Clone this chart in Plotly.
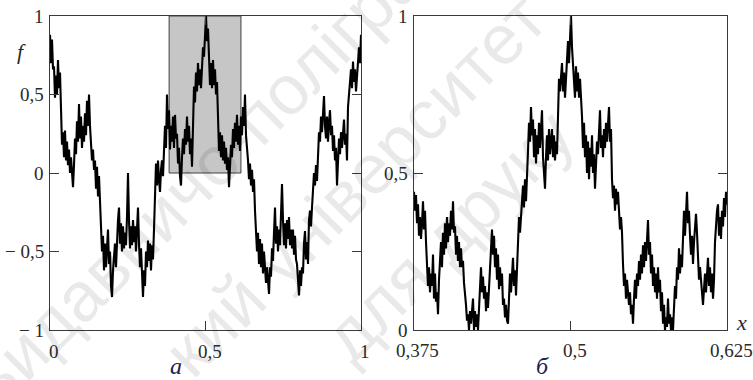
import numpy as np
import plotly.graph_objects as go

# f(x) sampled on a uniform grid over [0, 1] (panel a)
x_left_range = [0.0, 1.0]
f_left = [
    0.88, 0.70, 0.85, 0.66, 0.68, 0.48, 0.62, 0.50, 0.72, 0.54,
    0.64, 0.47, 0.18, 0.26, 0.10, 0.27, 0.08, 0.20, 0.05, 0.15,
    0.00, 0.10, -0.03, -0.09, 0.05, 0.22, 0.12, 0.33, 0.20, 0.44,
    0.22, 0.36, 0.16, 0.30, 0.20, 0.38, 0.24, 0.46, 0.30, 0.50,
    0.30, 0.22, 0.08, 0.15, 0.02, 0.08, -0.10, 0.04, -0.15, -0.02,
    -0.22, -0.36, -0.50, -0.40, -0.62, -0.45, -0.60, -0.48, -0.36, -0.58,
    -0.50, -0.72, -0.79, -0.62, -0.55, -0.45, -0.60, -0.42, -0.30, -0.22,
    -0.45, -0.32, -0.50, -0.34, -0.48, -0.38, -0.46, -0.28, 0.00, -0.30,
    -0.48, -0.34, -0.46, -0.30, -0.44, -0.34, -0.50, -0.36, -0.22, -0.45,
    -0.60, -0.48, -0.70, -0.79, -0.62, -0.72, -0.50, -0.60, -0.43, -0.56,
    -0.45, -0.62, -0.46, -0.55, -0.36, -0.10, 0.06, -0.08, 0.08, -0.04,
    -0.12, 0.02, 0.08, -0.02, 0.22, 0.30, 0.16, 0.50, 0.28, 0.40,
    0.15, 0.30, 0.20, 0.36, 0.16, 0.37, 0.22, 0.25, 0.06, 0.16,
    -0.02, -0.08, 0.10, 0.22, 0.12, 0.28, 0.18, 0.36, 0.20, 0.30,
    0.12, 0.22, 0.04, 0.42, 0.55, 0.45, 0.64, 0.52, 0.70, 0.56,
    0.66, 0.54, 0.72, 0.80, 0.74, 0.90, 1.00, 0.84, 0.92, 0.74,
    0.56, 0.70, 0.54, 0.72, 0.56, 0.66, 0.50, 0.58, 0.28, 0.14,
    0.26, 0.10, 0.24, 0.08, 0.20, 0.06, 0.16, 0.02, 0.10, -0.09,
    0.04, 0.18, 0.10, 0.28, 0.16, 0.32, 0.20, 0.37, 0.18, 0.30,
    0.14, 0.36, 0.24, 0.42, 0.30, 0.50, 0.24, 0.18, 0.08, -0.04,
    0.06, -0.08, 0.02, -0.12, -0.04, -0.24, -0.40, -0.50, -0.38, -0.58,
    -0.42, -0.60, -0.45, -0.64, -0.50, -0.60, -0.70, -0.60, -0.72, -0.77,
    -0.60, -0.66, -0.48, -0.56, -0.38, -0.22, -0.45, -0.34, -0.50, -0.36,
    -0.46, -0.28, -0.07, -0.30, -0.46, -0.32, -0.48, -0.30, -0.42, -0.28,
    -0.46, -0.36, -0.48, -0.36, -0.52, -0.40, -0.55, -0.58, -0.66, -0.78,
    -0.62, -0.72, -0.60, -0.64, -0.45, -0.37, -0.55, -0.44, -0.58, -0.30,
    -0.24, -0.34, -0.22, -0.12, 0.00, -0.08, 0.05, -0.05, 0.18, 0.26,
    0.20, 0.36, 0.26, 0.42, 0.49, 0.30, 0.22, 0.36, 0.20, 0.32,
    0.40, 0.24, 0.30, 0.14, 0.24, 0.08, 0.16, -0.08, 0.08, 0.22,
    0.12, 0.26, 0.16, 0.30, 0.34, 0.18, 0.25, 0.08, 0.42, 0.50,
    0.58, 0.66, 0.54, 0.71, 0.58, 0.66, 0.52, 0.64, 0.68, 0.80,
    0.70, 0.88,
]

# f(x) on the magnified window [0.375, 0.625] (panel б)
x_right_range = [0.375, 0.625]
f_right = [
    0.44, 0.38, 0.43, 0.34, 0.40, 0.30, 0.36, 0.29, 0.34, 0.41,
    0.32, 0.38, 0.28, 0.20, 0.14, 0.20, 0.12, 0.18, 0.14, 0.24,
    0.10, 0.18, 0.09, 0.12, 0.05, 0.16, 0.22, 0.28, 0.20, 0.31,
    0.24, 0.34, 0.26, 0.36, 0.28, 0.34, 0.30, 0.38, 0.32, 0.41,
    0.31, 0.33, 0.24, 0.30, 0.22, 0.28, 0.20, 0.26, 0.20, 0.22,
    0.15, 0.12, 0.08, 0.03, 0.05, 0.00, 0.06, 0.02, 0.08, 0.10,
    0.00, 0.06, 0.01, 0.05, 0.00, 0.08, 0.15, 0.20, 0.12, 0.17,
    0.10, 0.14, 0.06, 0.12, 0.07, 0.14, 0.22, 0.28, 0.32, 0.24,
    0.30, 0.20, 0.26, 0.16, 0.24, 0.13, 0.20, 0.14, 0.18, 0.08,
    0.10, 0.04, 0.08, 0.03, 0.02, 0.10, 0.18, 0.12, 0.20, 0.23,
    0.14, 0.19, 0.11, 0.18, 0.24, 0.36, 0.31, 0.36, 0.40, 0.46,
    0.39, 0.48, 0.41, 0.47, 0.57, 0.66, 0.60, 0.71, 0.62, 0.67,
    0.55, 0.64, 0.53, 0.62, 0.56, 0.66, 0.58, 0.64, 0.70, 0.55,
    0.50, 0.45, 0.55, 0.62, 0.54, 0.64, 0.56, 0.60, 0.64, 0.55,
    0.62, 0.54, 0.60, 0.56, 0.72, 0.80, 0.76, 0.82, 0.85, 0.76,
    0.82, 0.74, 0.80, 0.86, 0.92, 0.85, 0.94, 1.00, 0.90, 0.84,
    0.80, 0.74, 0.84, 0.76, 0.82, 0.74, 0.80, 0.75, 0.68, 0.58,
    0.66, 0.55, 0.62, 0.50, 0.60, 0.48, 0.58, 0.52, 0.62, 0.50,
    0.56, 0.45, 0.54, 0.60, 0.56, 0.66, 0.70, 0.58, 0.62, 0.55,
    0.64, 0.58, 0.66, 0.60, 0.68, 0.71, 0.60, 0.64, 0.48, 0.42,
    0.46, 0.38, 0.45, 0.40, 0.44, 0.37, 0.32, 0.36, 0.31, 0.21,
    0.14, 0.18, 0.10, 0.16, 0.12, 0.08, 0.12, 0.05, 0.08, 0.02,
    0.10, 0.16, 0.10, 0.18, 0.14, 0.22, 0.16, 0.24, 0.18, 0.27,
    0.20, 0.28, 0.22, 0.30, 0.35, 0.24, 0.28, 0.18, 0.24, 0.14,
    0.20, 0.12, 0.18, 0.10, 0.20, 0.12, 0.16, 0.06, 0.12, 0.02,
    0.08, 0.00, 0.04, 0.01, 0.10, 0.02, 0.05, 0.00, 0.04, 0.00,
    0.08, 0.14, 0.10, 0.20, 0.16, 0.26, 0.18, 0.24, 0.20, 0.32,
    0.38, 0.30, 0.40, 0.44, 0.34, 0.38, 0.30, 0.24, 0.30, 0.21,
    0.28, 0.34, 0.37, 0.31, 0.24, 0.16, 0.20, 0.14, 0.12, 0.08,
    0.12, 0.18, 0.12, 0.20, 0.23, 0.14, 0.20, 0.12, 0.18, 0.10,
    0.16, 0.28, 0.34, 0.38, 0.40, 0.30, 0.36, 0.29, 0.38, 0.33,
    0.42, 0.36, 0.44, 0.40,
]

# highlighted window on panel a
window_x = [0.383, 0.614]
window_y = [0.0, 1.0]

# tick positions and labels
left_xticks = [0.0, 0.5, 1.0]
left_xlabels = ["0", "0,5", "1"]
left_yticks = [1.0, 0.5, 0.0, -0.5, -1.0]
left_ylabels = ["1", "0,5", "0", "\u2212 0,5", "\u2212 1"]
right_xticks = [0.375, 0.5, 0.625]
right_xlabels = ["0,375", "0,5", "0,625"]
right_yticks = [1.0, 0.5, 0.0]
right_ylabels = ["1", "0,5", "0"]

# background stamp lines
stamp_lines = ["Видавничо-поліграфічний", "кий університет", "для друку"]

W, H = 753, 380
FRAME = "#3a3a3a"
TXT = "#2a2a2a"
SERIF = "Liberation Serif, Times New Roman, serif"


def px_x(p):
    return p / W


def px_y(p):
    return 1 - p / H


fig = go.Figure()

xl = np.linspace(x_left_range[0], x_left_range[1], len(f_left))
xr = np.linspace(x_right_range[0], x_right_range[1], len(f_right))

fig.add_trace(go.Scatter(x=xl, y=f_left, mode="lines", xaxis="x", yaxis="y",
                         line=dict(color="black", width=2.1), hoverinfo="skip"))
fig.add_trace(go.Scatter(x=xr, y=f_right, mode="lines", xaxis="x2", yaxis="y2",
                         line=dict(color="black", width=2.1), hoverinfo="skip"))

fig.add_shape(type="rect", xref="x", yref="y",
              x0=window_x[0], x1=window_x[1], y0=window_y[0], y1=window_y[1],
              fillcolor="#c6c6c6", line=dict(color="#404040", width=1), layer="below")

axis_common = dict(showline=True, mirror="ticks", linecolor=FRAME, linewidth=1,
                   ticks="inside", ticklen=9, tickcolor=FRAME, tickwidth=1,
                   showgrid=False, zeroline=False, showticklabels=False, fixedrange=True)

fig.update_layout(
    width=W, height=H, autosize=False,
    margin=dict(l=0, r=0, t=0, b=0),
    paper_bgcolor="white", plot_bgcolor="white",
    showlegend=False,
    xaxis=dict(domain=[px_x(50), px_x(361)], range=x_left_range,
               tickvals=[0.5], anchor="y", **axis_common),
    yaxis=dict(domain=[px_y(330), px_y(16)], range=[-1, 1],
               tickvals=[-0.5, 0, 0.5], anchor="x", **axis_common),
    xaxis2=dict(domain=[px_x(414), px_x(727)], range=x_right_range,
                tickvals=[0.5], anchor="y2", **axis_common),
    yaxis2=dict(domain=[px_y(330), px_y(16)], range=[0, 1],
                tickvals=[0.5], anchor="x2", **axis_common),
)

ann = []

# faint diagonal stamp
stamp_font = dict(family="Liberation Sans, Arial, sans-serif", size=70,
                  color="rgba(0,0,0,0.085)")
for text, (cx, cy) in zip(stamp_lines, [(273, 103), (355, 185), (448, 236)]):
    ann.append(dict(x=px_x(cx), y=px_y(cy), xref="paper", yref="paper", text=text,
                    showarrow=False, textangle=-45, xanchor="center", yanchor="middle",
                    font=stamp_font))

tick_font = dict(family=SERIF, size=19, color=TXT)
for v, t in zip(left_yticks, left_ylabels):
    ann.append(dict(x=0, xref="x domain", y=v, yref="y", text=t, showarrow=False,
                    xanchor="right", yanchor="middle", xshift=-4, font=tick_font))
for v, t in zip(right_yticks, right_ylabels):
    ann.append(dict(x=0, xref="x2 domain", y=v, yref="y2", text=t, showarrow=False,
                    xanchor="right", yanchor="middle", xshift=-4, font=tick_font))
for v, t in zip(left_xticks, left_xlabels):
    ann.append(dict(x=v, xref="x", y=0, yref="y domain", text=t, showarrow=False,
                    xanchor="center", yanchor="middle", xshift=4, yshift=-21, font=tick_font))
for v, t in zip(right_xticks, right_xlabels):
    ann.append(dict(x=v, xref="x2", y=0, yref="y2 domain", text=t, showarrow=False,
                    xanchor="center", yanchor="middle", xshift=4, yshift=-20, font=tick_font))

label_font = dict(family=SERIF, size=22, color=TXT)
ann.append(dict(x=px_x(21), y=px_y(52), xref="paper", yref="paper", text="<i>f</i>",
                showarrow=False, xanchor="center", yanchor="middle", font=label_font))
ann.append(dict(x=px_x(741), y=px_y(322), xref="paper", yref="paper", text="<i>x</i>",
                showarrow=False, xanchor="center", yanchor="middle", font=label_font))
panel_font = dict(family=SERIF, size=24, color="#1e2050")
ann.append(dict(x=px_x(176), y=px_y(366), xref="paper", yref="paper", text="<i>a</i>",
                showarrow=False, xanchor="center", yanchor="middle", font=panel_font))
ann.append(dict(x=px_x(542), y=px_y(366), xref="paper", yref="paper", text="<i>б</i>",
                showarrow=False, xanchor="center", yanchor="middle", font=panel_font))

fig.update_layout(annotations=ann)

fig.write_html("out.html")
